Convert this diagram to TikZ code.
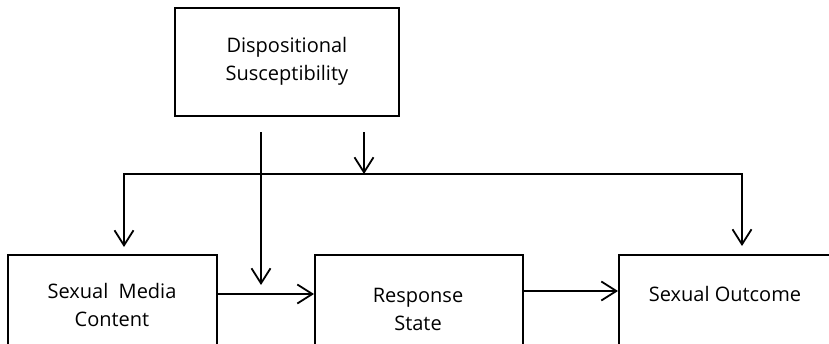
\documentclass[tikz,border=0pt]{standalone}
\usepackage{fontspec}
\setmainfont{Open Sans}
\usetikzlibrary{arrows.meta}
\begin{document}
\begin{tikzpicture}[x=1pt,y=-1pt,
  box/.style={draw, line width=1.8pt, inner sep=0pt},
  lbl/.style={font=\fontsize{20}{28}\selectfont, align=center, inner sep=0pt},
  ln/.style={line width=1.8pt},
  arr/.style={line width=1.8pt, -{Straight Barb[length=15pt,width=19pt,line width=1.8pt]}}]
\useasboundingbox (0,0) rectangle (829,343);
% boxes
\node[box, anchor=north west, minimum width=224pt, minimum height=108pt] (top) at (174,7) {};
\node[box, anchor=north west, minimum width=209pt, minimum height=130pt] (b1) at (7,254) {};
\node[box, anchor=north west, minimum width=208pt, minimum height=130pt] (b2) at (314,254) {};
\node[box, anchor=north west, minimum width=260pt, minimum height=130pt] (b3) at (618,254) {};
% texts
\node[lbl] (ttop) at ([yshift=1pt]top.center) {Dispositional\\Susceptibility};
\node[lbl] (t1) at (112,305) {Sexual\ \ Media\\Content};
\node[lbl] (t2) at (418,309) {Response\\State};
\node[lbl, anchor=base] (t3) at (725,301) {Sexual Outcome};
% connector coordinates
\coordinate (v1s) at (261,132);
\coordinate (v1e) at (261,285);
\coordinate (v2s) at (364,132);
\coordinate (hl) at (124,174);
\coordinate (hm) at (364,174);
\coordinate (hr) at (742,174);
\coordinate (dl) at (124,247);
\coordinate (dr) at (742,246);
% connectors
\draw[arr] (v1s) -- (v1e);
\draw[arr] (v2s) -- (hm);
\draw[ln] ([xshift=-0.9pt]hl) -- ([xshift=0.9pt]hr);
\draw[arr] ([yshift=-0.9pt]hl) -- (dl);
\draw[arr] ([yshift=-0.9pt]hr) -- (dr);
\draw[arr] (b1.north east |- 0,294) -- (b2.north west |- 0,294);
\draw[arr] (b2.north east |- 0,291) -- (b3.north west |- 0,291);
\end{tikzpicture}
\end{document}
